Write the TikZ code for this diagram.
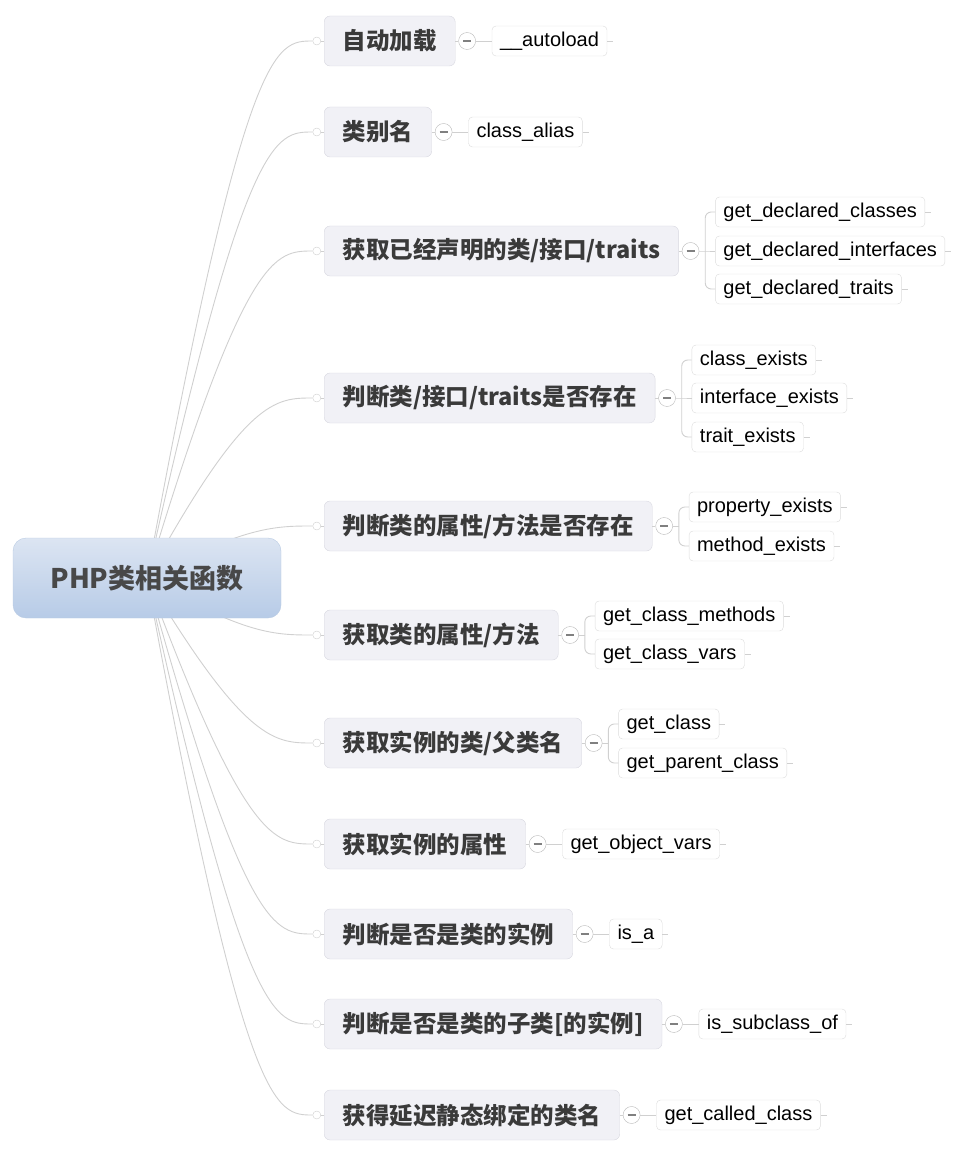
\documentclass[tikz,border=0pt]{standalone}
\usepackage{fontspec}
\setmainfont{Liberation Sans}
\newfontfamily\cjkfont{Noto Sans CJK SC}
\usetikzlibrary{positioning,backgrounds}
\definecolor{ink}{HTML}{3A3A3A}
\definecolor{rootink}{HTML}{484848}
\definecolor{linegray}{HTML}{D0D0D0}
\definecolor{topicfill}{HTML}{F1F1F6}
\definecolor{topicline}{HTML}{D8D8E0}
\definecolor{roottop}{HTML}{DCE5F2}
\definecolor{rootbot}{HTML}{B7CBE7}
\definecolor{rootline}{HTML}{B9CBE3}
\definecolor{leafline}{HTML}{DCDCDC}
\definecolor{foldline}{HTML}{B8B8B8}
\definecolor{foldink}{HTML}{808080}

\begin{document}
\begin{tikzpicture}[x=1pt,y=-1pt,
  link/.style={draw=linegray,line width=0.9pt},
  bracket/.style={link,rounded corners=6pt},
  root/.style={rounded corners=13pt,top color=roottop,bottom color=rootbot,draw=rootline,minimum width=268pt,minimum height=80pt,font=\cjkfont\bfseries\fontsize{27}{32}\selectfont,text=rootink},
  topic/.style={anchor=west,draw=topicline,fill=topicfill,rounded corners=6pt,minimum height=50pt,inner xsep=18.5pt,font=\cjkfont\bfseries\fontsize{23.5}{28}\selectfont,text=ink},
  leaf/.style={draw=leafline,fill=white,rounded corners=4pt,minimum height=30pt,inner xsep=8pt,inner ysep=0pt,font=\fontsize{20}{24}\selectfont,text=black,append after command={(\tikzlastnode.east) edge[link] ++(6pt,0)}},
  dot/.style={circle,draw=linegray,fill=white,inner sep=0pt,minimum size=8pt},
  fold/.style={circle,draw=foldline,fill=white,inner sep=0pt,minimum size=17pt,path picture={\draw[foldink,line width=1.3pt] ([xshift=-4pt]path picture bounding box.center) -- ([xshift=4pt]path picture bounding box.center);}}]
\useasboundingbox (0,0) rectangle (970,1158);

\node[root] (root) at (147,578) {PHP类相关函数};

% topics
\node[topic] (t1) at (324,41) {自动加载};
\node[topic] (t2) at (324,132) {类别名};
\node[topic] (t3) at (324,251) {获取已经声明的类/接口/traits};
\node[topic] (t4) at (324,398) {判断类/接口/traits是否存在};
\node[topic] (t5) at (324,526) {判断类的属性/方法是否存在};
\node[topic] (t6) at (324,635) {获取类的属性/方法};
\node[topic] (t7) at (324,743) {获取实例的类/父类名};
\node[topic] (t8) at (324,844) {获取实例的属性};
\node[topic] (t9) at (324,934) {判断是否是类的实例};
\node[topic] (t10) at (324,1024) {判断是否是类的子类[的实例]};
\node[topic] (t11) at (324,1115) {获得延迟静态绑定的类名};

\foreach \i in {1,...,11}{
  \node[dot,left=3pt of t\i] (p\i) {};
  \node[fold,right=3pt of t\i] (c\i) {};
  \draw[link] (p\i) -- (t\i);
  \draw[link] (t\i) -- (c\i);
  \coordinate[right=6pt of c\i] (s\i);
}
\begin{scope}[on background layer]
\foreach \i in {1,...,11}
  \draw[link] (root.center) .. controls ([xshift=-67pt]p\i.west) and ([xshift=-37pt]p\i.west) .. (p\i.west);
\end{scope}

% leaves
\node[leaf,right=16pt of c1] (l1) {\_\_autoload};
\node[leaf,right=16pt of c2] (l2) {class\_alias};
\node[leaf,right=16pt of c3,yshift=39pt] (l3a) {get\_declared\_classes};
\node[leaf,right=16pt of c3] (l3b) {get\_declared\_interfaces};
\node[leaf,right=16pt of c3,yshift=-38pt] (l3c) {get\_declared\_traits};
\node[leaf,right=16pt of c4,yshift=38pt] (l4a) {class\_exists};
\node[leaf,right=16pt of c4] (l4b) {interface\_exists};
\node[leaf,right=16pt of c4,yshift=-39pt] (l4c) {trait\_exists};
\node[leaf,right=16pt of c5,yshift=19pt] (l5a) {property\_exists};
\node[leaf,right=16pt of c5,yshift=-20pt] (l5b) {method\_exists};
\node[leaf,right=16pt of c6,yshift=19pt] (l6a) {get\_class\_methods};
\node[leaf,right=16pt of c6,yshift=-19pt] (l6b) {get\_class\_vars};
\node[leaf,right=16pt of c7,yshift=19pt] (l7a) {get\_class};
\node[leaf,right=16pt of c7,yshift=-20pt] (l7b) {get\_parent\_class};
\node[leaf,right=16pt of c8] (l8) {get\_object\_vars};
\node[leaf,right=16pt of c9] (l9) {is\_a};
\node[leaf,right=16pt of c10] (l10) {is\_subclass\_of};
\node[leaf,right=16pt of c11] (l11) {get\_called\_class};

\foreach \i in {1,2,8,9,10,11}
  \draw[link] (c\i) -- (l\i);
\foreach \i in {3,4}{
  \draw[link] (c\i) -- (s\i) -- (l\i b.west);
  \draw[bracket] (s\i) |- (l\i a.west);
  \draw[bracket] (s\i) |- (l\i c.west);
}
\foreach \i in {5,6,7}{
  \draw[link] (c\i) -- (s\i);
  \draw[bracket] (s\i) |- (l\i a.west);
  \draw[bracket] (s\i) |- (l\i b.west);
}
\end{tikzpicture}
\end{document}
